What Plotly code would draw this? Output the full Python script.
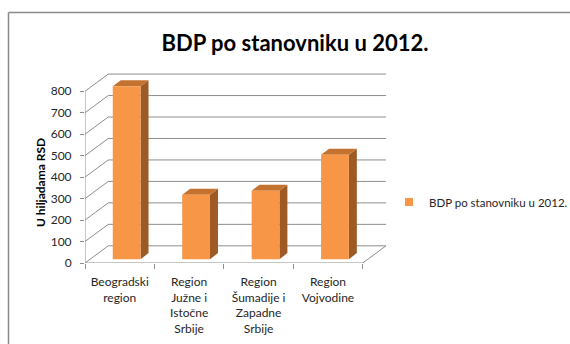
import plotly.graph_objects as go

# ---- data ----
categories = ["Beogradski<br>region", "Region<br>Južne i<br>Istočne<br>Srbije",
              "Region<br>Šumadije i<br>Zapadne<br>Srbije", "Region<br>Vojvodine"]
values = [805, 300, 319, 486]
y_ticks = [0, 100, 200, 300, 400, 500, 600, 700, 800]
series_name = "BDP po stanovniku u 2012."
title_text = "BDP po stanovniku u 2012."
y_title = "U hiljadama RSD"

# ---- styles / pseudo-3D geometry ----
FRONT = "#F79646"
TOP = "#C4722F"
SIDE = "#9E5A24"
GRID = "#8E8E8E"
FONT = "Lato"
DX, DY = 0.335, 80        # wall depth offset (x units, value units)
BAR_SHIFT, BAR_BASE = 0.10, 18   # bar front face offset inside depth
BAR_W = 0.40
BDX, BDY = 0.115, 28      # bar depth

n = len(categories)
x0, x1 = -0.5, n - 0.5

fig = go.Figure()

def line(xs, ys, color=GRID, width=1):
    fig.add_trace(go.Scatter(x=xs, y=ys, mode="lines", line=dict(color=color, width=width),
                             hoverinfo="skip", showlegend=False))

# back wall gridlines and left wall diagonals
for v in y_ticks:
    line([x0 + DX, x1 + DX], [v + DY, v + DY])
    line([x0, x0 + DX], [v, v + DY])
# floor
line([x0, x1], [0, 0])
line([x1, x1 + DX], [0, DY])
# left axis line
line([x0, x0], [0, y_ticks[-1]])

# bars
for i, v in enumerate(values):
    xl = i + BAR_SHIFT - BAR_W / 2
    xr = i + BAR_SHIFT + BAR_W / 2
    b = BAR_BASE
    t = BAR_BASE + v
    # side
    fig.add_trace(go.Scatter(x=[xr, xr, xr + BDX, xr + BDX, xr], y=[b, t, t + BDY, b + BDY, b],
                             fill="toself", fillcolor=SIDE, mode="none",
                             hoverinfo="skip", showlegend=False))
    # top
    fig.add_trace(go.Scatter(x=[xl, xr, xr + BDX, xl + BDX, xl], y=[t, t, t + BDY, t + BDY, t],
                             fill="toself", fillcolor=TOP, mode="none",
                             hoverinfo="skip", showlegend=False))
    # front
    fig.add_trace(go.Scatter(x=[xl, xr, xr, xl, xl], y=[b, b, t, t, b],
                             fill="toself", fillcolor=FRONT, mode="none",
                             name=series_name, hoverinfo="name+y", showlegend=False))

# legend entry
fig.add_trace(go.Scatter(x=[None], y=[None], mode="markers", name=series_name,
                         marker=dict(symbol="square", size=8, color=FRONT)))

L, R, T, B = 85, 184, 73, 81
W, H = 570, 344
pw, ph = W - L - R, H - T - B

def px_x(p):
    return (p - L) / pw

def px_y(p):
    return (H - B - p) / ph

fig.update_layout(
    width=W, height=H,
    margin=dict(l=L, r=R, t=T, b=B, autoexpand=False),
    paper_bgcolor="white", plot_bgcolor="white",
    font=dict(family=FONT, size=12, color="#262626"),
    title=dict(text="<b>" + title_text + "</b>", x=295 / W, xanchor="center",
               xref="container", yref="container", y=1 - 43 / H, yanchor="middle",
               font=dict(family=FONT, size=22, color="#000000")),
    showlegend=True,
    legend=dict(x=px_x(389), y=px_y(202), xanchor="left", yanchor="middle",
                font=dict(family=FONT, size=11.5, color="#262626"),
                bgcolor="rgba(0,0,0,0)", itemwidth=30),
    xaxis=dict(range=[x0, x1 + DX], showgrid=False, zeroline=False, showline=False,
               tickvals=list(range(n)), ticktext=categories, ticks="",
               ticklabelstandoff=10, tickfont=dict(size=12), automargin=False,
               minor=dict(tickvals=[i - 0.5 for i in range(n + 1)], ticks="outside",
                          ticklen=5, tickcolor=GRID, tickwidth=1),
               fixedrange=True),
    yaxis=dict(range=[0, 885], showgrid=False, zeroline=False, showline=False,
               tickvals=y_ticks, ticks="outside", ticklen=4, tickcolor=GRID,
               ticklabelstandoff=6, tickfont=dict(size=12), automargin=False,
               fixedrange=True),
    annotations=[dict(text="<b>" + y_title + "</b>", xref="paper", yref="paper",
                      x=px_x(40), y=px_y(183), textangle=-90, showarrow=False,
                      font=dict(family=FONT, size=12, color="#000000"),
                      xanchor="center", yanchor="middle")],
    shapes=[
        dict(type="line", xref="paper", yref="paper", x0=px_x(8.5), x1=px_x(600),
             y0=px_y(12.5), y1=px_y(12.5), line=dict(color="#8A8A8A", width=1.5)),
        dict(type="line", xref="paper", yref="paper", x0=px_x(8.5), x1=px_x(8.5),
             y0=px_y(12.5), y1=px_y(400), line=dict(color="#8A8A8A", width=1.5)),
    ],
)

fig.write_html("out.html", config={"displayModeBar": False})
